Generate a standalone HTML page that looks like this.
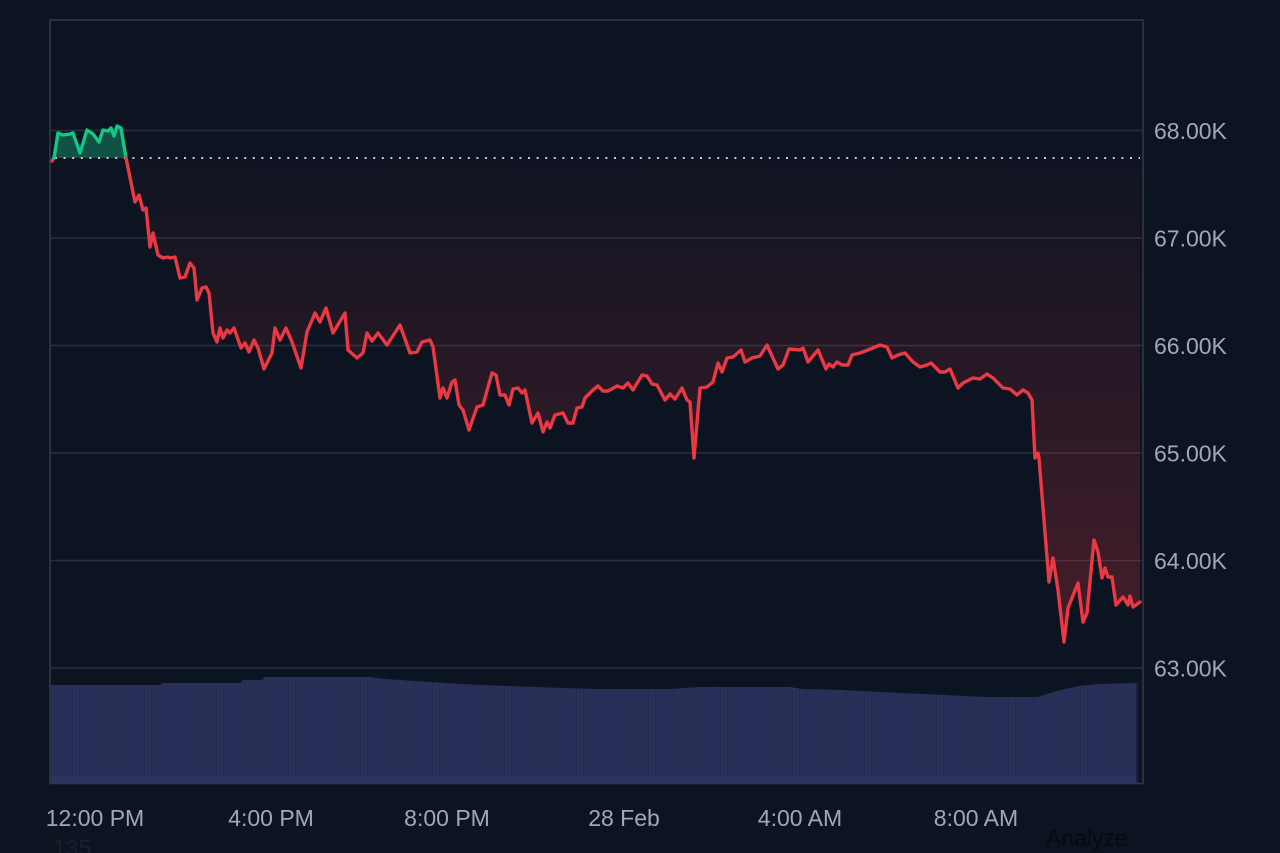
<!DOCTYPE html>
<html><head><meta charset="utf-8"><style>
html,body{margin:0;padding:0;background:#0d1421;}
svg{display:block;}
text{font-family:"Liberation Sans",Arial,sans-serif;}
</style></head><body>
<svg width="1280" height="853" viewBox="0 0 1280 853" xmlns="http://www.w3.org/2000/svg">
<defs>
<linearGradient id="rg" gradientUnits="userSpaceOnUse" x1="0" y1="158" x2="0" y2="650">
<stop offset="0" stop-color="#ea3943" stop-opacity="0.01"/>
<stop offset="1" stop-color="#ea3943" stop-opacity="0.26"/>
</linearGradient>
<pattern id="vp" width="3.6" height="10" patternUnits="userSpaceOnUse">
<rect x="0" y="0" width="3.6" height="10" fill="#29315a"/>
<rect x="0" y="0" width="0.7" height="10" fill="#222a4c"/>
</pattern>
</defs>
<rect width="1280" height="853" fill="#0d1421"/>
<!-- grid -->
<g stroke="#2b2f3d" stroke-width="1.5">
<line x1="50" y1="130.5" x2="1143" y2="130.5"/>
<line x1="50" y1="238" x2="1143" y2="238"/>
<line x1="50" y1="345.5" x2="1143" y2="345.5"/>
<line x1="50" y1="453" x2="1143" y2="453"/>
<line x1="50" y1="560.5" x2="1143" y2="560.5"/>
<line x1="50" y1="668" x2="1143" y2="668"/>
</g>
<!-- volume -->
<polygon fill="url(#vp)" points="51,685 160,685 163,683 240,683 243,680 262,680 265,677 370,677 385,679 400,680 445,683 480,685 534,687 596,689 670,689 699,687 790,687 802,689 842,690 900,693 945,695 985,697 1038,697 1050,693 1065,689 1079,686 1100,684 1138,683 1138,783 51,783"/>
<rect x="51" y="776" width="1087" height="7" fill="#2e3566" opacity="0.7"/>
<rect x="1136" y="683" width="2.5" height="100" fill="#1a2042"/>
<!-- border -->
<rect x="50" y="20" width="1093" height="763.5" fill="none" stroke="#343846" stroke-width="1.6"/>
<!-- fills -->
<polygon fill="#16c784" fill-opacity="0.35" points="54,158 58,133 63,135 70,134 73,133 80,153 87,130 93,134 99,142 103,130 108,131 111,128 114,136 117,126 121,128 126,158"/>
<polygon fill="url(#rg)" points="126,158 135,202 139,195 143,210 146,208 150,247 153,233 158,255 163,258 168,257 170,258 175,257 180,278 185,277 190,263 194,268 197,300 202,288 206,287 209,293 213,333 217,342 220,328 223,338 227,330 230,333 234,328 241,348 245,343 249,352 254,340 258,348 264,369 272,353 275,328 280,340 286,328 292,342 301,368 307,332 315,313 320,322 326,308 333,333 345,313 348,350 357,358 363,353 367,333 372,341 378,333 387,345 400,325 410,353 417,352 422,342 430,340 433,347 440,398 443,388 447,398 452,382 455,380 459,405 463,410 469,430 477,407 483,405 492,373 496,375 500,395 505,395 509,405 513,389 518,388 522,393 525,390 532,423 538,413 543,432 547,422 550,428 555,415 563,413 568,423 573,423 577,408 582,407 585,398 593,390 598,386 603,391 608,391 617,386 623,388 628,383 633,390 642,375 647,376 652,384 657,385 665,400 670,394 675,399 682,388 687,400 690,402 694,458 700,388 707,387 713,382 718,363 722,372 727,358 733,357 741,350 745,362 752,358 760,356 767,345 772,356 778,369 783,365 789,349 800,350 803,348 808,362 818,350 826,369 829,364 833,367 837,362 842,365 848,365 852,355 860,353 868,350 880,345 887,347 892,358 898,355 905,353 913,362 920,367 927,365 931,363 935,367 940,372 945,372 950,369 958,388 963,383 973,378 980,379 987,374 993,378 1003,388 1010,389 1017,395 1023,390 1028,393 1032,400 1035,458 1038,453 1039,458 1049,582 1053,558 1058,590 1064,642 1068,608 1078,583 1083,622 1087,613 1094,540 1098,552 1102,578 1105,568 1108,577 1112,577 1116,605 1123,597 1128,605 1130,596 1133,607 1140,602 1140,158"/>
<!-- baseline dotted -->
<line x1="55" y1="158" x2="1140" y2="158" stroke="#c3c7d2" stroke-width="2" stroke-dasharray="2 6.6"/>
<!-- lines -->
<polyline fill="none" stroke="#ea3943" stroke-width="3.4" stroke-linejoin="round" stroke-linecap="round" points="52,161 54,158"/>
<polyline fill="none" stroke="#16c784" stroke-width="3.4" stroke-linejoin="round" stroke-linecap="round" points="54,158 58,133 63,135 70,134 73,133 80,153 87,130 93,134 99,142 103,130 108,131 111,128 114,136 117,126 121,128 126,158"/>
<polyline fill="none" stroke="#ea3943" stroke-width="3.4" stroke-linejoin="round" stroke-linecap="round" points="126,158 135,202 139,195 143,210 146,208 150,247 153,233 158,255 163,258 168,257 170,258 175,257 180,278 185,277 190,263 194,268 197,300 202,288 206,287 209,293 213,333 217,342 220,328 223,338 227,330 230,333 234,328 241,348 245,343 249,352 254,340 258,348 264,369 272,353 275,328 280,340 286,328 292,342 301,368 307,332 315,313 320,322 326,308 333,333 345,313 348,350 357,358 363,353 367,333 372,341 378,333 387,345 400,325 410,353 417,352 422,342 430,340 433,347 440,398 443,388 447,398 452,382 455,380 459,405 463,410 469,430 477,407 483,405 492,373 496,375 500,395 505,395 509,405 513,389 518,388 522,393 525,390 532,423 538,413 543,432 547,422 550,428 555,415 563,413 568,423 573,423 577,408 582,407 585,398 593,390 598,386 603,391 608,391 617,386 623,388 628,383 633,390 642,375 647,376 652,384 657,385 665,400 670,394 675,399 682,388 687,400 690,402 694,458 700,388 707,387 713,382 718,363 722,372 727,358 733,357 741,350 745,362 752,358 760,356 767,345 772,356 778,369 783,365 789,349 800,350 803,348 808,362 818,350 826,369 829,364 833,367 837,362 842,365 848,365 852,355 860,353 868,350 880,345 887,347 892,358 898,355 905,353 913,362 920,367 927,365 931,363 935,367 940,372 945,372 950,369 958,388 963,383 973,378 980,379 987,374 993,378 1003,388 1010,389 1017,395 1023,390 1028,393 1032,400 1035,458 1038,453 1039,458 1049,582 1053,558 1058,590 1064,642 1068,608 1078,583 1083,622 1087,613 1094,540 1098,552 1102,578 1105,568 1108,577 1112,577 1116,605 1123,597 1128,605 1130,596 1133,607 1140,602"/>
<!-- y labels -->
<g fill="#a1a7bb" font-size="23">
<text x="1154" y="139">68.00K</text>
<text x="1154" y="246.5">67.00K</text>
<text x="1154" y="354">66.00K</text>
<text x="1154" y="461.5">65.00K</text>
<text x="1154" y="569">64.00K</text>
<text x="1154" y="676.5">63.00K</text>
</g>
<!-- x labels -->
<g fill="#a1a7bb" font-size="23" text-anchor="middle">
<text x="95" y="826">12:00 PM</text>
<text x="271" y="826">4:00 PM</text>
<text x="447" y="826">8:00 PM</text>
<text x="624" y="826">28 Feb</text>
<text x="800" y="826">4:00 AM</text>
<text x="976" y="826">8:00 AM</text>
</g>
<text x="53" y="856" font-size="23" fill="#1b1f2b">135</text>
<text x="1046" y="846" font-size="23" fill="#080a10">Analyze</text>
</svg>
</body></html>
